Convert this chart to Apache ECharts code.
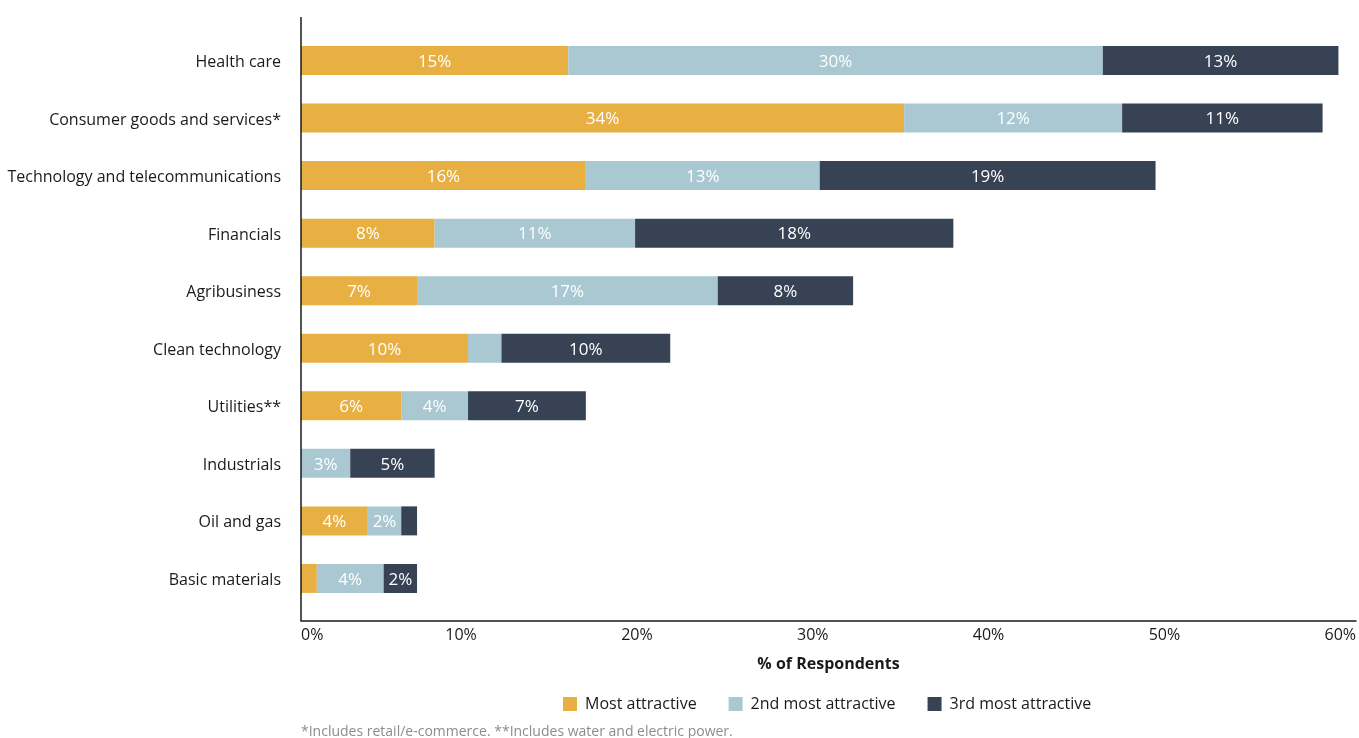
<!DOCTYPE html>
<html>
<head>
<meta charset="utf-8">
<title>Most attractive sectors</title>
<script src="https://cdn.jsdelivr.net/npm/echarts@6/dist/echarts.min.js"></script>
<style>
  html, body { margin: 0; padding: 0; background: #ffffff; }
  #chart { width: 1359px; height: 738px; }
</style>
</head>
<body>
<div id="chart"></div>
<script>
// Sectors, top to bottom
const categories = [
  'Health care',
  'Consumer goods and services*',
  'Technology and telecommunications',
  'Financials',
  'Agribusiness',
  'Clean technology',
  'Utilities**',
  'Industrials',
  'Oil and gas',
  'Basic materials'
];

// Share of respondents (%) per ranking
const mostAttractive   = [15.2, 34.3, 16.2, 7.6, 6.6, 9.5, 5.7, 0.0, 3.8, 0.9];
const secondAttractive = [30.4, 12.4, 13.3, 11.4, 17.1, 1.9, 3.8, 2.8, 1.9, 3.8];
const thirdAttractive  = [13.4, 11.4, 19.1, 18.1, 7.7, 9.6, 6.7, 4.8, 0.9, 1.9];

const seriesNames = ['Most attractive', '2nd most attractive', '3rd most attractive'];

// X axis ticks (%)
const xTicks = [0, 10, 20, 30, 40, 50, 60];

// Segments printed without a value
const unlabeledSegments = [['2nd most attractive', 'Clean technology']];
const minLabeledValue = 1.5;

const colors = ['#E8B043', '#AAC8D2', '#374354'];
const FONT = "'Open Sans', 'Liberation Sans', sans-serif";

const GRID_LEFT = 301;
const GRID_TOP = 31.7;
const GRID_HEIGHT = 575.5;
const AXIS_BOTTOM_Y = 621;

function seriesData(name, values) {
  return values.map((v, i) => {
    const quiet = v < minLabeledValue ||
      unlabeledSegments.some(([s, c]) => s === name && c === categories[i]);
    return quiet ? { value: v, label: { show: false } } : v;
  });
}

function makeSeries(name, values, color) {
  return {
    name: name,
    type: 'bar',
    stack: 'rank',
    barWidth: 29,
    itemStyle: { color: color },
    label: {
      show: true,
      position: 'inside',
      offset: [0, 1.5],
      color: '#ffffff',
      fontFamily: FONT,
      fontSize: 17,
      formatter: p => Math.round(p.value) + '%'
    },
    emphasis: { disabled: true },
    data: seriesData(name, values)
  };
}

const chart = echarts.init(document.getElementById('chart'), null, { renderer: 'canvas' });

chart.setOption({
  animation: false,
  backgroundColor: '#ffffff',
  textStyle: { fontFamily: FONT },
  grid: {
    left: GRID_LEFT,
    right: 3,
    top: GRID_TOP,
    height: GRID_HEIGHT,
    containLabel: false
  },
  legend: {
    left: 563,
    top: 696,
    padding: 0,
    icon: 'rect',
    itemWidth: 14,
    itemHeight: 14,
    itemGap: 32,
    selectedMode: false,
    textStyle: { fontFamily: FONT, fontSize: 16, color: '#1a1a1a', padding: [0, 0, 0, 3] },
    data: seriesNames
  },
  xAxis: {
    type: 'value',
    min: xTicks[0],
    max: xTicks[xTicks.length - 1],
    interval: xTicks[1] - xTicks[0],
    offset: AXIS_BOTTOM_Y - (GRID_TOP + GRID_HEIGHT),
    name: '% of Respondents',
    nameLocation: 'middle',
    nameGap: 35,
    nameTextStyle: { fontFamily: FONT, fontSize: 16, fontWeight: 'bold', color: '#1a1a1a' },
    axisLine: { show: true, lineStyle: { color: '#1a1a1a', width: 1.5 } },
    axisTick: { show: false },
    splitLine: { show: false },
    axisLabel: {
      fontFamily: FONT,
      fontSize: 16,
      color: '#1a1a1a',
      margin: 6,
      align: 'right',
      alignMinLabel: 'left',
      formatter: '{value}%'
    }
  },
  yAxis: {
    type: 'category',
    data: categories,
    inverse: true,
    axisLine: { show: false },
    axisTick: { show: false },
    splitLine: { show: false },
    axisLabel: {
      margin: 20,
      formatter: '{c|{value}}',
      rich: {
        c: {
          fontFamily: FONT,
          fontSize: 16,
          color: '#1a1a1a',
          padding: [4, 0, 0, 0]
        }
      }
    }
  },
  series: [
    makeSeries(seriesNames[0], mostAttractive, colors[0]),
    makeSeries(seriesNames[1], secondAttractive, colors[1]),
    makeSeries(seriesNames[2], thirdAttractive, colors[2])
  ],
  graphic: [
    {
      type: 'line',
      z: 10,
      shape: { x1: GRID_LEFT, y1: 17, x2: GRID_LEFT, y2: AXIS_BOTTOM_Y },
      style: { stroke: '#1a1a1a', lineWidth: 1.5 }
    },
    {
      type: 'text',
      left: 301,
      top: 725,
      style: {
        text: '*Includes retail/e-commerce. **Includes water and electric power.',
        font: "14px 'Open Sans', sans-serif",
        fill: '#8c8c8c'
      }
    }
  ]
});
</script>
</body>
</html>
